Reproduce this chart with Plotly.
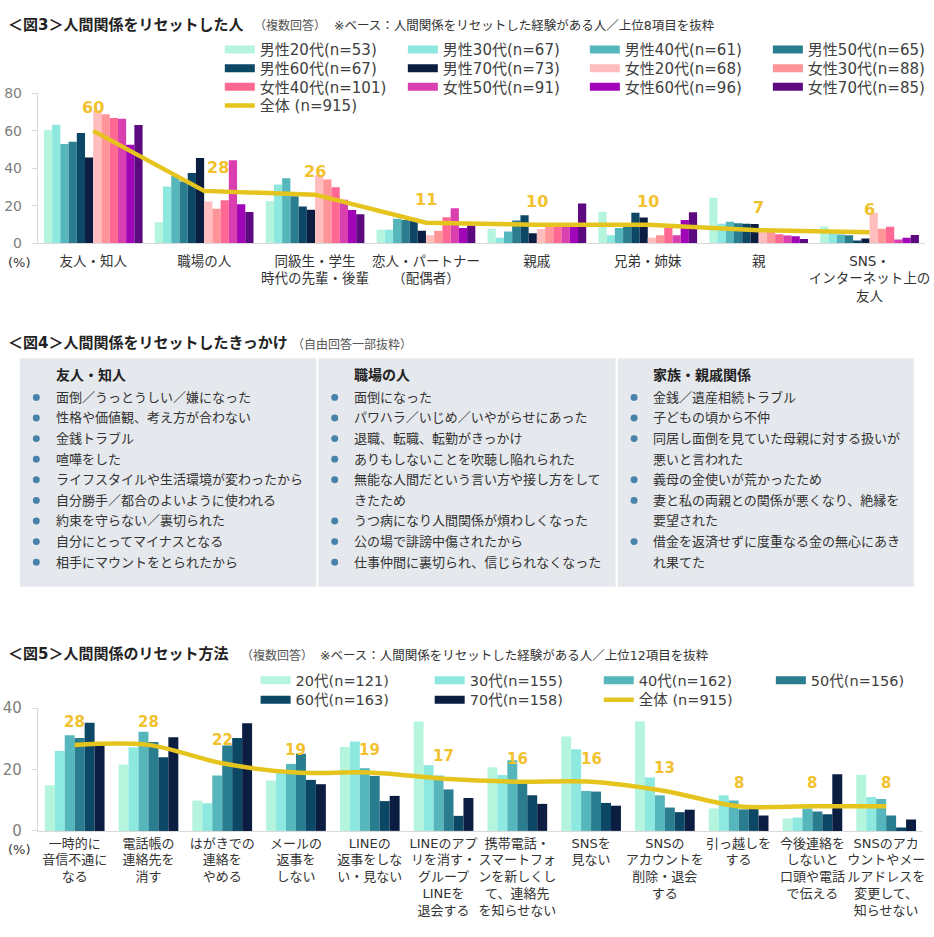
import plotly.graph_objects as go

W, H = 934, 937
def fx(v): return v / W
def fy(v): return 1 - v / H

FONT = "DejaVu Sans, Noto Sans CJK JP, sans-serif"
TXT = "#333333"
GOLD_LINE = "#E6C41E"
GOLD_TXT = "#F2C12E"

# ---------------- Figure 3 data ----------------
cats1 = ["友人・知人", "職場の人", "同級生・学生<br>時代の先輩・後輩", "恋人・パートナー<br>（配偶者）",
         "親戚", "兄弟・姉妹", "親", "SNS・<br>インターネット上の<br>友人"]
names1 = ["男性20代(n=53)", "男性30代(n=67)", "男性40代(n=61)", "男性50代(n=65)",
          "男性60代(n=67)", "男性70代(n=73)", "女性20代(n=68)", "女性30代(n=88)",
          "女性40代(n=101)", "女性50代(n=91)", "女性60代(n=96)", "女性70代(n=85)"]
m20 = [60.5, 11.3, 22.6, 7.3, 7.7, 16.9, 24.4, 9.0]
m30 = [63.2, 30.3, 31.4, 7.3, 3.0, 4.4, 10.5, 7.0]
m40 = [53.0, 36.1, 34.7, 13.1, 6.4, 8.2, 11.5, 4.7]
m50 = [54.2, 33.0, 25.1, 12.5, 12.2, 9.5, 10.8, 4.4]
m60 = [58.9, 37.5, 19.7, 13.4, 15.0, 16.4, 10.5, 1.6]
m70 = [45.8, 45.6, 17.9, 6.8, 5.4, 13.8, 10.3, 2.6]
f20 = [70.9, 22.3, 36.4, 4.4, 7.7, 3.0, 5.9, 16.4]
f30 = [68.8, 18.5, 34.1, 6.8, 9.6, 4.4, 6.3, 7.8]
f40 = [66.9, 23.0, 30.0, 13.9, 9.8, 8.2, 4.9, 8.9]
f50 = [66.4, 44.4, 23.3, 18.8, 9.6, 4.4, 4.2, 2.1]
f60 = [52.6, 20.9, 17.8, 8.2, 9.6, 12.5, 3.8, 3.0]
f70 = [63.1, 16.7, 15.5, 9.6, 21.3, 16.6, 2.3, 4.5]
total1 = [60, 28, 26, 11, 10, 10, 7, 6]
total1_name = "全体 (n=915)"

# ---------------- Figure 5 data ----------------
cats5 = ["一時的に<br>音信不通に<br>なる", "電話帳の<br>連絡先を<br>消す", "はがきでの<br>連絡を<br>やめる",
         "メールの<br>返事を<br>しない", "LINEの<br>返事をしな<br>い・見ない",
         "LINEのアプ<br>リを消す・<br>グループ<br>LINEを<br>退会する",
         "携帯電話・<br>スマートフォ<br>ンを新しくし<br>て、連絡先<br>を知らせない",
         "SNSを<br>見ない", "SNSの<br>アカウントを<br>削除・退会<br>する", "引っ越しを<br>する",
         "今後連絡を<br>しないと<br>口頭や電話<br>で伝える",
         "SNSのアカ<br>ウントやメー<br>ルアドレスを<br>変更して、<br>知らせない"]
names5 = ["20代(n=121)", "30代(n=155)", "40代(n=162)", "50代(n=156)", "60代(n=163)", "70代(n=158)"]
a20 = [14.9, 21.6, 9.9, 16.4, 27.3, 35.6, 20.7, 30.7, 35.7, 7.3, 4.0, 18.3]
a30 = [26.0, 27.2, 9.0, 19.5, 29.1, 21.4, 18.2, 26.6, 17.4, 11.6, 4.4, 11.0]
a40 = [31.1, 32.3, 18.0, 21.8, 20.4, 18.0, 23.0, 13.0, 11.6, 9.9, 7.3, 10.4]
a50 = [30.2, 28.9, 27.8, 25.1, 17.9, 13.5, 15.9, 12.8, 7.6, 7.0, 6.3, 5.0]
a60 = [35.2, 24.0, 30.2, 16.6, 9.7, 4.9, 11.6, 9.1, 6.1, 7.6, 5.4, 1.1]
a70 = [28.0, 30.5, 35.0, 15.2, 11.4, 10.7, 8.8, 8.2, 6.9, 5.0, 18.4, 3.7]
total5 = [28, 28, 22, 19, 19, 17, 16, 16, 13, 8, 8, 8]

# ---------------- Figure 4 text ----------------
heads4 = ["友人・知人", "職場の人", "家族・親戚関係"]
col4_1 = [["面倒／うっとうしい／嫌になった"], ["性格や価値観、考え方が合わない"], ["金銭トラブル"],
          ["喧嘩をした"], ["ライフスタイルや生活環境が変わったから"], ["自分勝手／都合のよいように使われる"],
          ["約束を守らない／裏切られた"], ["自分にとってマイナスとなる"], ["相手にマウントをとられたから"]]
col4_2 = [["面倒になった"], ["パワハラ／いじめ／いやがらせにあった"], ["退職、転職、転勤がきっかけ"],
          ["ありもしないことを吹聴し陥れられた"], ["無能な人間だという言い方や接し方をして", "きたため"],
          ["うつ病になり人間関係が煩わしくなった"], ["公の場で誹謗中傷されたから"],
          ["仕事仲間に裏切られ、信じられなくなった"]]
col4_3 = [["金銭／遺産相続トラブル"], ["子どもの頃から不仲"],
          ["同居し面倒を見ていた母親に対する扱いが", "悪いと言われた"], ["義母の金使いが荒かったため"],
          ["妻と私の両親との関係が悪くなり、絶縁を", "要望された"],
          ["借金を返済せずに度重なる金の無心にあき", "れ果てた"]]

colors1 = ["#B5F5DD", "#8DE8E0", "#55B6BB", "#2A7D8F", "#0D4766", "#0B1D40",
           "#FFBDBD", "#FF9499", "#FE6892", "#D93FAE", "#A005B8", "#5D0A80"]
colors5 = colors1[:6]
# horizontal nudge (px) of each total-value label, as in the original layout
label_shift1 = [0, 14, 0, 0, 0, 0, 0, 0]

fig = go.Figure()

# ----- Figure 3 bars -----
series1 = [m20, m30, m40, m50, m60, m70, f20, f30, f40, f50, f60, f70]
gw1 = 0.89
bw1 = gw1 / len(series1)
for i, (nm, vals) in enumerate(zip(names1, series1)):
    fig.add_trace(go.Bar(x=cats1, y=vals, name=nm, marker=dict(color=colors1[i], line=dict(width=0)),
                         width=bw1, offset=-gw1 / 2 + i * bw1, xaxis="x", yaxis="y",
                         showlegend=False, hoverinfo="skip"))
fig.add_trace(go.Scatter(x=cats1, y=total1, mode="lines", line=dict(color=GOLD_LINE, width=4.5),
                         xaxis="x", yaxis="y", name=total1_name, showlegend=False, hoverinfo="skip"))

# ----- Figure 5 bars -----
series5 = [a20, a30, a40, a50, a60, a70]
gw5 = 0.81
bw5 = gw5 / len(series5)
for i, (nm, vals) in enumerate(zip(names5, series5)):
    fig.add_trace(go.Bar(x=cats5, y=vals, name=nm, marker=dict(color=colors5[i], line=dict(width=0)),
                         width=bw5, offset=-gw5 / 2 + i * bw5, xaxis="x2", yaxis="y2",
                         showlegend=False, hoverinfo="skip"))
fig.add_trace(go.Scatter(x=cats5, y=total5, mode="lines", line=dict(color=GOLD_LINE, width=4.5, shape="spline", smoothing=0.9),
                         xaxis="x2", yaxis="y2", name=total1_name, showlegend=False, hoverinfo="skip"))

# ----- Legends (one legend box per entry so columns line up) -----
legends = {}
lg_count = [0]
def legend_entry(name, color, lw, left, row, size, xa, ya):
    lg_count[0] += 1
    key = "legend" if lg_count[0] == 1 else "legend%d" % lg_count[0]
    legends[key] = dict(x=fx(left - 5), xanchor="left", y=fy(row - (size * 1.3 + 3) / 2 - 5), yanchor="top",
                        bgcolor="rgba(0,0,0,0)", borderwidth=0, itemwidth=30,
                        font=dict(size=size, color="#404040", family=FONT))
    fig.add_trace(go.Scatter(x=[None], y=[None], mode="lines", line=dict(color=color, width=lw),
                             name=name, legend=key, xaxis=xa, yaxis=ya, hoverinfo="skip"))

cols1 = [226, 410, 593, 777]
rows1 = [41, 60, 79, 98]
for i, nm in enumerate(names1):
    legend_entry(nm, colors1[i], 8, cols1[i % 4], rows1[i // 4], 15, "x", "y")
legend_entry(total1_name, GOLD_LINE, 4.5, cols1[0], rows1[3], 15, "x", "y")

cols5 = [262, 437, 607, 780]
rows5 = [684, 704]
for i, nm in enumerate(names5):
    legend_entry(nm, colors5[i], 8, cols5[i % 4], rows5[i // 4], 14.5, "x2", "y2")
legend_entry(total1_name, GOLD_LINE, 4.5, cols5[2], rows5[1], 14.5, "x2", "y2")

annotations = []
shapes = []

# value labels of the total line
for c, v, sh in zip(cats1, total1, label_shift1):
    annotations.append(dict(x=c, y=v, xref="x", yref="y", text="<b>%d</b>" % v, showarrow=False,
                            yshift=23, xshift=sh, font=dict(size=16, color=GOLD_TXT, family=FONT)))
for c, v in zip(cats5, total5):
    annotations.append(dict(x=c, y=v, xref="x2", yref="y2", text="<b>%d</b>" % v, showarrow=False,
                            yshift=23, font=dict(size=15, color=GOLD_TXT, family=FONT)))

def note(text, x, y, size, color=TXT, anchor="left"):
    annotations.append(dict(x=fx(x), y=fy(y), xref="paper", yref="paper", text=text, showarrow=False,
                            xanchor=anchor, yanchor="middle", font=dict(size=size, color=color, family=FONT)))

# titles
note("<b>＜図3＞人間関係をリセットした人</b>", 6, 16, 15, "#222222")
note("（複数回答）", 253, 17, 12, "#555555")
note("※ベース：人間関係をリセットした経験がある人／上位8項目を抜粋", 334, 17, 12.5, "#333333")
note("<b>＜図4＞人間関係をリセットしたきっかけ</b>", 6, 341, 15, "#222222")
note("（自由回答一部抜粋）", 292, 342, 12, "#555555")
note("<b>＜図5＞人間関係のリセット方法</b>", 6, 658, 15, "#222222")
note("（複数回答）", 240, 659, 12, "#555555")
note("※ベース：人間関係をリセットした経験がある人／上位12項目を抜粋", 320, 659, 12.5, "#333333")
note("(%)", 20, 258, 13, TXT, "center")
note("(%)", 20, 857, 13, TXT, "center")

# Figure 4 panel
box_x = [(20, 318), (320, 619), (621, 919)]
for (x0, x1) in box_x:
    shapes.append(dict(type="rect", xref="paper", yref="paper", x0=fx(x0), x1=fx(x1), y0=fy(589), y1=fy(356),
                       fillcolor="#E5E8EC", line=dict(width=0), layer="below"))
row0, dy = 396, 21
for (x0, x1), head, items in zip(box_x, heads4, [col4_1, col4_2, col4_3]):
    note("<b>%s</b>" % head, x0 + 34, 373, 14, "#222222")
    r = 0
    for item in items:
        yb = row0 + dy * r
        shapes.append(dict(type="circle", xref="paper", yref="paper", x0=fx(x0 + 13), x1=fx(x0 + 20),
                           y0=fy(yb + 3.5), y1=fy(yb - 3.5), fillcolor="#4682A9", line=dict(width=0)))
        for line in item:
            note(line, x0 + 34, row0 + dy * r, 13, "#333333")
            r += 1

axis_common = dict(showgrid=False, zeroline=False, showline=True, linecolor="#D9D9D9", linewidth=1)

fig.update_layout(
    width=W, height=H, margin=dict(l=0, r=0, t=0, b=0),
    paper_bgcolor="white", plot_bgcolor="white",
    font=dict(family=FONT, color=TXT),
    barmode="overlay", hovermode=False,
    xaxis=dict(domain=[fx(38), fx(930)], anchor="y", type="category", range=[-0.5, 7.5],
               ticks="", tickangle=0, tickfont=dict(size=13.5, color=TXT), ticklabelstandoff=5, **axis_common),
    yaxis=dict(domain=[fy(239), fy(86)], anchor="x", range=[0, 80], tickvals=[0, 20, 40, 60, 80],
               ticks="outside", ticklen=5, tickcolor="#D9D9D9", ticklabelstandoff=7,
               tickfont=dict(size=14, color="#808080"), **axis_common),
    xaxis2=dict(domain=[fx(38), fx(928)], anchor="y2", type="category", range=[-0.5, 11.5],
                ticks="", tickangle=0, tickfont=dict(size=13, color=TXT), ticklabelstandoff=0, **axis_common),
    yaxis2=dict(domain=[fy(838), fy(712.7)], anchor="x2", range=[0, 40], tickvals=[0, 20, 40],
                ticks="outside", ticklen=5, tickcolor="#D9D9D9", ticklabelstandoff=7,
                tickfont=dict(size=15, color="#808080"), **axis_common),
    annotations=annotations, shapes=shapes,
    **legends,
)

fig.write_html("out.html")
